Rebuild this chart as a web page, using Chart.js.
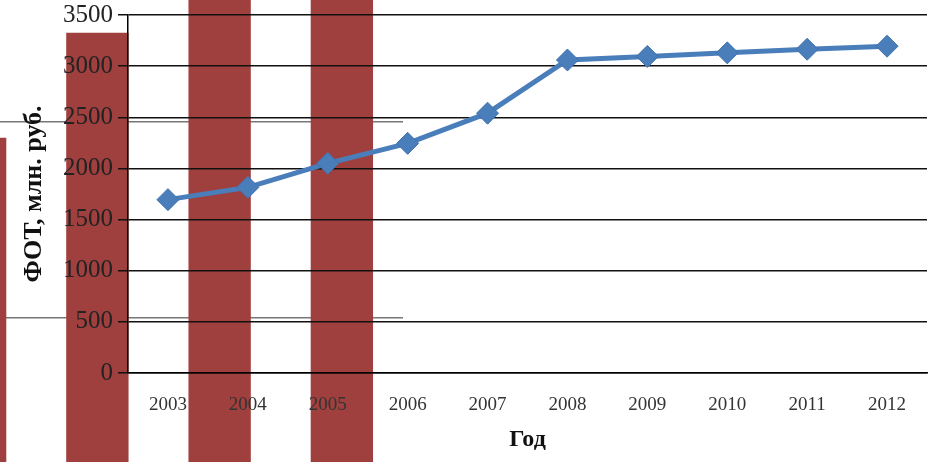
<!DOCTYPE html>
<html>
<head>
<meta charset="utf-8">
<script src="https://cdn.jsdelivr.net/npm/chart.js@4"></script>
<style>
	html, body { margin: 0; padding: 0; background: #fff; overflow: hidden; }
	.wrap { position: relative; width: 933px; height: 462px; overflow: hidden; }
	#back { position: absolute; left: -86px; top: -74px; }
	#main { position: absolute; left: 0; top: 0; }
</style>
</head>
<body>
<div class="wrap">
	<canvas id="back" width="489" height="588"></canvas>
	<canvas id="main" width="933" height="462"></canvas>
</div>
<script>
// годы и ФОТ
const years = ['2003', '2004', '2005', '2006', '2007', '2008', '2009', '2010', '2011', '2012'];
const fot = [1695, 1815, 2050, 2245, 2540, 3060, 3095, 3130, 3165, 3195];
const yTicks = [0, 500, 1000, 1500, 2000, 2500, 3000, 3500];

// обрывок соседней диаграммы за графиком
const backCats = ['a', 'b', 'c', 'd'];
const backVals = [1920, 2455, 3000, 3000];

const serif = "'Liberation Serif', 'Times New Roman', serif";

new Chart(document.getElementById('back'), {
	type: 'bar',
	data: {
		labels: backCats,
		datasets: [{
			data: backVals,
			backgroundColor: '#a0403e',
			barPercentage: 0.51,
			categoryPercentage: 1
		}]
	},
	options: {
		responsive: false,
		animation: false,
		layout: { padding: 0 },
		plugins: { legend: { display: false }, tooltip: { enabled: false } },
		scales: {
			x: { display: false },
			y: {
				min: 0,
				max: 3000,
				ticks: { display: false, stepSize: 1000 },
				grid: { color: '#777', lineWidth: 1.5, drawTicks: false },
				border: { display: false },
				afterFit: function (s) { s.width = 0; }
			}
		}
	}
});

new Chart(document.getElementById('main'), {
	type: 'line',
	data: {
		labels: years,
		datasets: [{
			data: fot,
			borderColor: '#4a7ebb',
			backgroundColor: '#4a7ebb',
			borderWidth: 5,
			pointStyle: 'rectRot',
			pointRadius: 11,
			pointBorderWidth: 1,
			pointBorderColor: '#3f72ad',
			tension: 0,
			clip: false
		}]
	},
	options: {
		responsive: false,
		animation: false,
		layout: { autoPadding: false, padding: { top: 15, right: 6, left: 0, bottom: 0 } },
		plugins: { legend: { display: false }, tooltip: { enabled: false } },
		scales: {
			x: {
				offset: true,
				grid: { display: false },
				border: { color: '#000', width: 1.5 },
				ticks: { color: '#333', font: { family: serif, size: 19 }, padding: 13, maxRotation: 0 },
				title: {
					display: true,
					text: 'Год',
					color: '#111',
					font: { family: serif, size: 24, weight: 'bold' },
					padding: { top: 0, bottom: 8 }
				},
				afterFit: function (s) {
					s.height = 89;
					s.paddingLeft = 0;
					s.paddingRight = 0;
				}
			},
			y: {
				min: 0,
				max: 3500,
				afterBuildTicks: function (s) { s.ticks = yTicks.map(v => ({ value: v })); },
				ticks: {
					color: '#222',
					font: { family: serif, size: 25 },
					padding: 5,
					callback: function (v) { return String(v); }
				},
				grid: { color: '#111', lineWidth: 1.5, tickLength: 10, tickColor: '#111' },
				border: { color: '#000', width: 1.5 },
				title: {
					display: true,
					text: 'ФОТ, млн. руб.',
					color: '#111',
					font: { family: serif, size: 26, weight: 'bold' },
					padding: { top: 19, bottom: 0 }
				},
				afterFit: function (s) {
					s.width = 128;
					s.paddingTop = 0;
					s.paddingBottom = 0;
				}
			}
		}
	}
});
</script>
</body>
</html>
